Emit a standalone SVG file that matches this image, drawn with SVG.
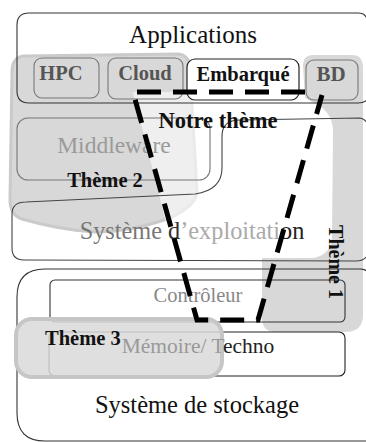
<svg xmlns="http://www.w3.org/2000/svg" width="366" height="442" viewBox="0 0 366 442">
<style>
text{font-family:"Liberation Serif","DejaVu Serif",serif;}
.b{font-weight:bold;}
.box{fill:none;stroke:#333;stroke-width:1.1;}
.sub{fill:none;stroke:#777;stroke-width:1.1;}
.blob{fill:#d8d8d8;}
</style>
<rect width="366" height="442" fill="#fff"/>

<!-- theme blobs (behind) -->
<g id="theme2-blob">
<path class="blob" stroke="#cacaca" stroke-width="3" d="M24 56 L178 54 Q190 55 190 70 L197 192 Q196 206 170 218 Q130 232 95 232 Q60 230 22 219 Q10 215 10 200 L12 72 Q12 57 24 56 Z"/>
</g>
<g id="theme1-blob">
<path class="blob" d="M313 55 L352 55 Q363 55 363 68 L363 315 Q363 332 345 332 L276 332 Q262 332 262 318 L262 258 L312 258 Q330 256 332 238 L333 130 Q332 112 316 104 L305 98 L303 66 Q303 55 313 55 Z"/>
</g>
<g id="overlay">
<path fill="#fff" fill-opacity="0.6" d="M133 92 L303 92 L303 100 L318 106 L262 258 L175 258 Z"/>
</g>

<!-- Applications -->
<g id="applications">
<path class="box" d="M29 13 L358 13 Q368 13 368 25 L368 96 Q368 103 358 103 L29 103 Q17 103 17 91 L17 25 Q17 13 29 13 Z"/>
<text x="193" y="43" font-size="25" text-anchor="middle" fill="#111">Applications</text>
</g>
<g id="hpc">
<rect x="34" y="58" width="65" height="40" rx="8" class="sub"/>
<text x="61" y="80" font-size="20.5" class="b" text-anchor="middle" fill="#555">HPC</text>
</g>
<g id="cloud">
<rect x="108" y="58" width="75" height="41" rx="8" class="sub"/>
<text x="145" y="80" font-size="20.5" class="b" text-anchor="middle" fill="#555">Cloud</text>
</g>
<g id="embarque">
<rect x="187" y="59" width="112" height="41" rx="8" fill="#fff" stroke="#222" stroke-width="1.2"/>
<text x="243" y="81" font-size="20.5" class="b" text-anchor="middle" fill="#111">Embarqué</text>
</g>
<g id="bd">
<rect x="306" y="60" width="52" height="40" rx="8" class="sub"/>
<text x="331" y="81" font-size="21" class="b" text-anchor="middle" fill="#555">BD</text>
</g>

<!-- Middleware -->
<g id="middleware">
<rect x="17" y="118" width="193" height="62" rx="11" fill="none" stroke="#777" stroke-width="1.1"/>
<text x="114" y="153" font-size="23.5" text-anchor="middle" fill="#9a9a9a">Middleware</text>
</g>

<!-- OS -->
<g id="systeme-exploitation">
<path fill="none" stroke="#444" stroke-width="1.1" d="M12 214 Q12 202 26 202 L195 194 Q222 190 222 168 L222 136 Q222 120 240 120 L360 118 Q367 119 369 128 L369 252 Q366 261 356 261 L24 260 Q12 260 12 248 Z"/>
<text x="192" y="239" font-size="24.3" text-anchor="middle"><tspan fill="#777">Système </tspan><tspan fill="#333">d</tspan><tspan fill="#aaa">’exploitati</tspan><tspan fill="#222">on</tspan></text>
</g>

<!-- Storage -->
<g id="systeme-stockage">
<path class="box" stroke-width="1.3" d="M45 269 L360 269 Q369 269 370 278 L370 441 L45 441 Q17 441 17 413 L17 297 Q17 269 45 269 Z"/>
<text x="197" y="413" font-size="24.5" text-anchor="middle" fill="#111">Système de stockage</text>
</g>
<g id="controleur">
<rect x="50" y="280" width="295" height="42" rx="5" fill="none" stroke="#333" stroke-width="1.1"/>
<text x="198" y="302" font-size="20.5" text-anchor="middle" fill="#888">Contrôleur</text>
</g>
<g id="memoire">
<rect x="49" y="332" width="296" height="44" rx="6" fill="none" stroke="#222" stroke-width="1.1"/>
</g>

<!-- Theme 3 blob over memory box -->
<g id="theme3">
<rect x="16" y="319" width="206" height="58" rx="16" fill="#d9d9d9" fill-opacity="0.85" stroke="#c6c6c6" stroke-width="4"/>
<text x="198" y="353" font-size="21.5" text-anchor="middle"><tspan fill="#999">Mémoire/ T</tspan><tspan fill="#222">echno</tspan></text>
<text x="45" y="345" font-size="20.5" class="b" fill="#111">Thème 3</text>
</g>

<!-- theme labels -->
<g id="theme2-label">
<text x="105" y="187" font-size="20.5" class="b" text-anchor="middle" fill="#111">Thème 2</text>
</g>
<g id="theme1-label">
<text transform="translate(329 262) rotate(90)" x="0" y="0" font-size="20" class="b" text-anchor="middle" fill="#111">Thème 1</text>
</g>

<!-- Notre thème region -->
<g id="connectors">
<path fill="none" stroke="#000" stroke-width="5" stroke-dasharray="24 12" d="M305 92 L133 92 L197 320 L258 320 L322 95"/>
</g>
<g id="notre-theme">
<text x="218" y="128" font-size="22.5" class="b" text-anchor="middle" fill="#111">Notre thème</text>
</g>
</svg>
